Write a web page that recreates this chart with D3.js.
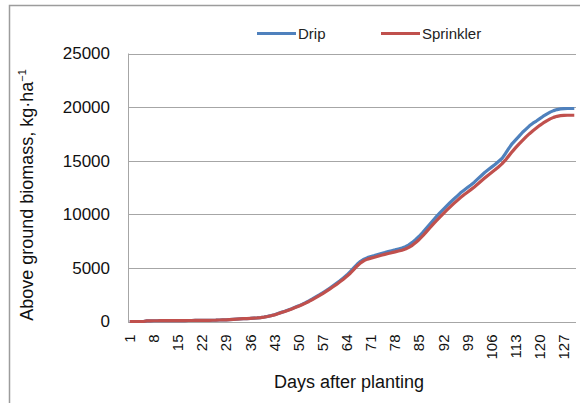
<!DOCTYPE html>
<meta charset="utf-8">
<html>
<head>
<style>
    body { margin: 0; background: #fff; }
    svg { display: block; font-family: "Liberation Sans", Arial, sans-serif; }
    .grid line { stroke: #a6a6a6; stroke-width: 1; }
    .axis path, .axis line { stroke: none; }
    .axis text { fill: #111; }
</style>
</head>
<body>
<svg width="580" height="403"></svg>
<script src="https://d3js.org/d3.v7.min.js"></script>
<script>

    // days 1..130
    var days = d3.range(1, 131);
    var xTicks = [1, 8, 15, 22, 29, 36, 43, 50, 57, 64, 71, 78, 85, 92, 99, 106, 113, 120, 127];
    var yTicks = [0, 5000, 10000, 15000, 20000, 25000];
    var seriesNames = ["Drip", "Sprinkler"];

    // above ground biomass, kg/ha
    var drip = [
        0, 0, 0, 0, 0,
        60, 65, 70, 72, 75, 78, 80, 82, 84, 86, 88, 90, 92, 94, 96, 98, 100, 105, 110, 115, 120,
        140, 150, 160, 180, 200, 220, 240, 260, 270, 290,
        320, 340, 370, 420, 480, 550, 630, 740, 850, 960, 1080, 1200, 1330, 1460,
        1600, 1750, 1920, 2100, 2290, 2480, 2680, 2880, 3100, 3330,
        3560, 3800, 4060, 4330, 4650, 5000, 5340, 5620, 5820, 5960,
        6060, 6150, 6250, 6350, 6430, 6520, 6600, 6680, 6770, 6860,
        6980, 7150, 7380, 7650, 7950, 8300, 8680, 9050, 9420, 9780,
        10130, 10450, 10780, 11100, 11400, 11700, 12000, 12250, 12500, 12740,
        13000, 13300, 13600, 13900, 14150, 14400, 14650, 14920, 15200, 15650,
        16150, 16600, 16950, 17300, 17650, 17950, 18250, 18500, 18700, 18920,
        19150, 19350, 19530, 19670, 19770, 19830, 19860, 19870, 19870, 19870
    ];
    var sprinkler = [
        0, 0, 0, 0, 0,
        60, 65, 70, 72, 75, 78, 80, 82, 84, 86, 88, 90, 92, 94, 96, 98, 100, 105, 110, 115, 120,
        140, 150, 160, 180, 200, 220, 240, 260, 270, 290,
        310, 330, 360, 410, 470, 540, 615, 720, 830, 940, 1050, 1170, 1300, 1420,
        1560, 1710, 1870, 2050, 2230, 2420, 2610, 2810, 3020, 3240,
        3460, 3700, 3950, 4210, 4500, 4840, 5180, 5470, 5680, 5820,
        5910, 6000, 6090, 6180, 6260, 6340, 6420, 6490, 6570, 6650,
        6760, 6910, 7110, 7360, 7650, 7980, 8340, 8700, 9060, 9400,
        9740, 10060, 10380, 10690, 10990, 11280, 11560, 11820, 12060, 12300,
        12550, 12820, 13100, 13380, 13650, 13900, 14150, 14420, 14700, 15050,
        15450, 15850, 16220, 16570, 16900, 17220, 17520, 17800, 18050, 18300,
        18520, 18720, 18900, 19040, 19140, 19200, 19230, 19240, 19240, 19240
    ];
    var colors = ["#4F81BD", "#C0504D"];

    var svg = d3.select("svg");

    // outer chart border
    svg.append("rect")
        .attr("x", 9.5).attr("y", 5.5)
        .attr("width", 600).attr("height", 420)
        .attr("fill", "none")
        .attr("stroke", "#9c9c9c")
        .attr("stroke-width", 1.5);

    var plotLeft = 128, plotRight = 576, plotTop = 53.5, plotBottom = 321.5;

    var x = d3.scaleBand().domain(days).range([plotLeft, plotRight]);
    var y = d3.scaleLinear().domain([0, 25000]).range([plotBottom, plotTop]);

    // horizontal gridlines
    svg.append("g").attr("class", "grid")
        .selectAll("line")
        .data(yTicks)
        .enter().append("line")
        .attr("x1", plotLeft).attr("x2", plotRight)
        .attr("y1", d => Math.round(y(d)) + 0.5)
        .attr("y2", d => Math.round(y(d)) + 0.5);

    // vertical axis line
    svg.append("line")
        .attr("x1", plotLeft + 0.5).attr("x2", plotLeft + 0.5)
        .attr("y1", plotTop).attr("y2", plotBottom + 1)
        .attr("stroke", "#a6a6a6");

    var yAxis = svg.append("g").attr("class", "axis")
        .attr("transform", "translate(" + (plotLeft - 18) + ",0)")
        .call(d3.axisLeft(y).tickValues(yTicks).tickSize(0).tickPadding(0).tickFormat(d3.format("d")));
    yAxis.selectAll("text").style("font-size", "17px");

    var xAxis = svg.append("g").attr("class", "axis")
        .attr("transform", "translate(0," + (plotBottom + 13) + ")")
        .call(d3.axisBottom(x).tickValues(xTicks).tickSize(0).tickPadding(0));
    xAxis.selectAll("text")
        .style("font-size", "15px")
        .attr("text-anchor", "end")
        .attr("transform", "rotate(-90)")
        .attr("x", 0)
        .attr("y", 0)
        .attr("dy", "0.35em");

    // lines
    var line = d3.line()
        .x((d, i) => x(days[i]) + x.bandwidth() / 2)
        .y(d => y(d));

    [drip, sprinkler].forEach(function(s, i) {
        svg.append("path")
            .datum(s)
            .attr("fill", "none")
            .attr("stroke", colors[i])
            .attr("stroke-width", 3.2)
            .attr("stroke-linejoin", "round")
            .attr("d", line);
    });

    // legend
    var legendX = [257, 381];
    var legend = svg.append("g");
    seriesNames.forEach(function(name, i) {
        legend.append("line")
            .attr("x1", legendX[i]).attr("x2", legendX[i] + 39)
            .attr("y1", 33.5).attr("y2", 33.5)
            .attr("stroke", colors[i])
            .attr("stroke-width", 3.2);
        legend.append("text")
            .attr("x", legendX[i] + 41)
            .attr("y", 33.5)
            .attr("dy", "0.36em")
            .style("font-size", "15px")
            .attr("fill", "#222")
            .text(name);
    });

    // axis titles
    svg.append("text")
        .attr("x", 349).attr("y", 388)
        .attr("text-anchor", "middle")
        .style("font-size", "18px")
        .attr("fill", "#111")
        .text("Days after planting");

    var yTitle = svg.append("text")
        .attr("transform", "translate(33,195) rotate(-90)")
        .attr("text-anchor", "middle")
        .style("font-size", "18px")
        .attr("fill", "#111");
    yTitle.append("tspan").text("Above ground biomass, kg\u00b7ha");
    yTitle.append("tspan")
        .attr("dy", -7)
        .style("font-size", "11px")
        .text("\u22121");

</script>
</body>
</html>
